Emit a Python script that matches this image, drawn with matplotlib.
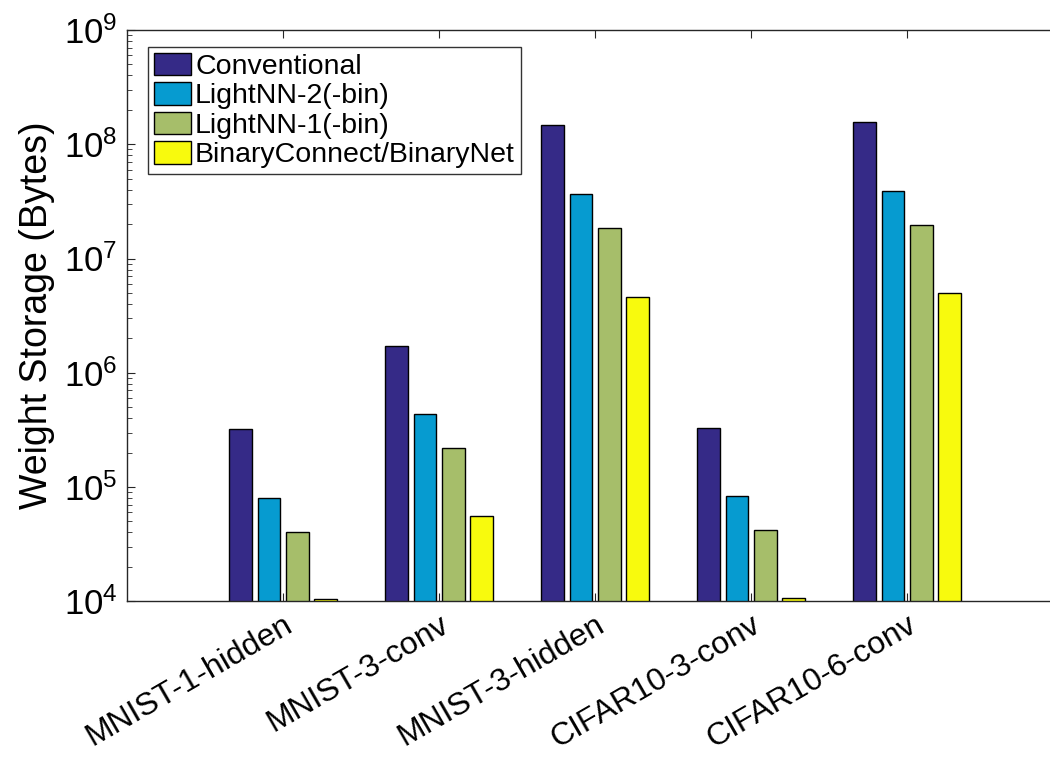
import matplotlib
matplotlib.use("Agg")
import matplotlib.pyplot as plt
import numpy as np

plt.rcParams.update({
    "font.family": ["Liberation Sans", "DejaVu Sans"],
    "mathtext.fontset": "custom",
    "mathtext.rm": "Liberation Sans",
    "xtick.direction": "in",
    "ytick.direction": "in",
})

# data (bytes)
datasets = ["MNIST-1-hidden", "MNIST-3-conv", "MNIST-3-hidden",
            "CIFAR10-3-conv", "CIFAR10-6-conv"]
conventional = [3.2e5, 1.70e6, 1.47e8, 3.26e5, 1.57e8]
lightnn2     = [7.97e4, 4.33e5, 3.67e7, 8.3e4, 3.92e7]
lightnn1     = [4.02e4, 2.18e5, 1.85e7, 4.18e4, 1.96e7]
binary       = [1.04e4, 5.61e4, 4.63e6, 1.07e4, 4.96e6]

series = [
    ("Conventional", conventional, "#352a87"),
    ("LightNN-2(-bin)", lightnn2, "#069bd0"),
    ("LightNN-1(-bin)", lightnn1, "#a6be6a"),
    ("BinaryConnect/BinaryNet", binary, "#f8fa0d"),
]

fig = plt.figure(figsize=(10.5, 7.57), dpi=100)
# axes run slightly past the right edge, as in the cropped reference
ax = fig.add_axes([0.121, 0.2057, 0.8914, 0.7547])
ax.set_yscale("log")

x = np.arange(1, len(datasets) + 1)
pitch = 0.182
width = 0.145
for i, (name, vals, col) in enumerate(series):
    ax.bar(x + (i - 1.5) * pitch, vals, width, color=col,
           edgecolor="black", linewidth=1.0, label=name)

ax.set_xlim(0, 6)
ax.set_ylim(1e4, 1e9)
ax.set_xticks(x)
ax.set_xticklabels(datasets, rotation=30, ha="right", va="top",
                   rotation_mode="anchor", fontsize=23)
ax.set_ylabel("Weight Storage (Bytes)", fontsize=27, labelpad=6)

ax.tick_params(axis="both", which="major", length=6, width=0.8,
               color="#262626", top=True, right=True)
ax.tick_params(axis="y", which="major", labelsize=25, pad=7)
ax.tick_params(axis="x", which="major", pad=6)
ax.tick_params(axis="y", which="minor", length=3.5, width=0.6,
               color="#262626", right=True)
for sp in ax.spines.values():
    sp.set_color("#262626")
    sp.set_linewidth(1.0)

leg = ax.legend(loc="upper left", bbox_to_anchor=(21 / 936, 1 - 17 / 571.3),
                borderaxespad=0, fontsize=20.5, frameon=True, fancybox=False,
                edgecolor="black", handlelength=1.3, handleheight=0.85,
                handletextpad=0.15, labelspacing=0.08, borderpad=0.2)
leg.get_frame().set_linewidth(1.0)

plt.savefig("out.png", dpi=100)
plt.close()
